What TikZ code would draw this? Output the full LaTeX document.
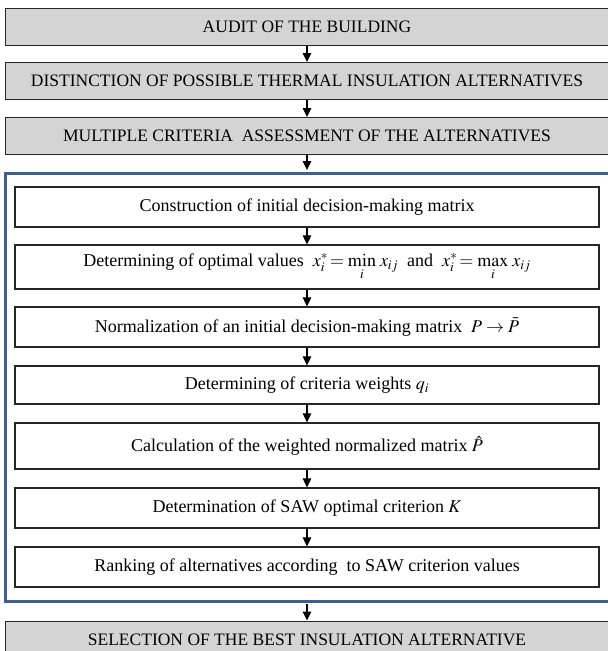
\documentclass[tikz,border=0pt]{standalone}
\usepackage{mathptmx}
\usepackage[no-math]{fontspec}
\setmainfont{Liberation Serif}
\usetikzlibrary{arrows.meta}
\definecolor{boxgray}{RGB}{212,212,212}
\definecolor{frameblue}{RGB}{62,96,140}
\tikzset{
  graybox/.style={draw=black!85, fill=boxgray, line width=1pt, minimum width=604pt, minimum height=37pt, inner sep=0pt, font=\fontsize{17.5}{20}\selectfont},
  whitebox/.style={draw=black!85, fill=white, line width=1.2pt, minimum width=584pt, inner sep=0pt, font=\fontsize{18}{21}\selectfont},
  bluefr/.style={draw=frameblue, line width=3pt, minimum width=604pt, minimum height=428pt, inner sep=0pt},
  flow/.style={line width=1.1pt, -{Triangle[width=8.5pt,length=9pt]}}
}
\begin{document}
\begin{tikzpicture}[x=1pt,y=-1pt]
\useasboundingbox (0,0) rectangle (608,651);
\node[graybox] (g1) at (307,27) {AUDIT OF THE BUILDING};
\node[graybox] (g2) at (307,81) {DISTINCTION OF POSSIBLE THERMAL INSULATION ALTERNATIVES};
\node[graybox] (g3) at (307,136) {MULTIPLE CRITERIA\ \ ASSESSMENT OF THE ALTERNATIVES};
\node[bluefr] (fr) at (307,387) {};
\node[whitebox, minimum height=40pt] (b1) at (307,207) {Construction of initial decision-making matrix};
\node[whitebox, minimum height=44pt] (b2) at (307,267) {Determining of optimal values\ \ $x_i^{*}\!=\min\limits_{i}\, x_{ij}$\ \ and\ \ $x_i^{*}\!=\max\limits_{i}\, x_{ij}$};
\node[whitebox, minimum height=40pt] (b3) at (307,327) {Normalization of an initial decision-making matrix\ \ $P\rightarrow\bar{P}$};
\node[whitebox, minimum height=38pt] (b4) at (307,385) {Determining of criteria weights\ $q_i$};
\node[whitebox, minimum height=46pt] (b5) at (307,446) {Calculation of the weighted normalized matrix\ $\hat{P}$};
\node[whitebox, minimum height=40pt] (b6) at (307,508) {Determination of SAW optimal criterion $K$};
\node[whitebox, minimum height=40pt] (b7) at (307,567) {Ranking of alternatives according\ \ to SAW criterion values};
\node[graybox] (g4) at (307,639.5) {SELECTION OF THE BEST INSULATION ALTERNATIVE};
\draw[flow] (g1.south) -- (g2.north);
\draw[flow] (g2.south) -- (g3.north);
\draw[flow] (g3.south) -- ([yshift=1.5pt]fr.north);
\draw[flow] (b1.south) -- (b2.north);
\draw[flow] (b2.south) -- (b3.north);
\draw[flow] (b3.south) -- (b4.north);
\draw[flow] (b4.south) -- (b5.north);
\draw[flow] (b5.south) -- (b6.north);
\draw[flow] (b6.south) -- (b7.north);
\draw[flow] ([yshift=-1.5pt]fr.south) -- (g4.north);
\end{tikzpicture}
\end{document}
